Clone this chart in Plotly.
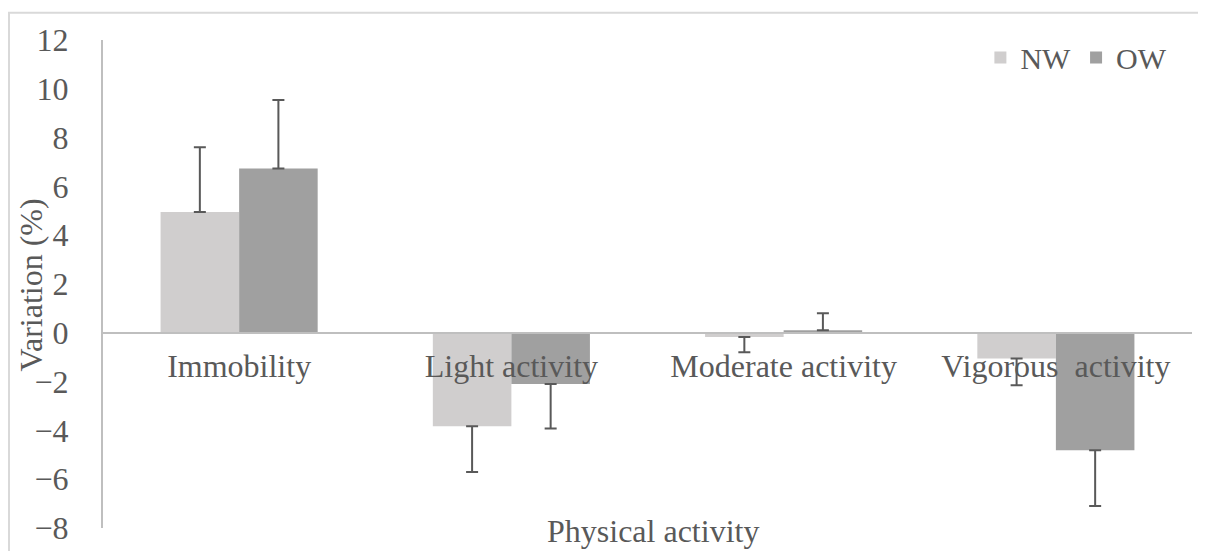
import plotly.graph_objects as go

categories = ["Immobility", "Light activity", "Moderate activity", "Vigorous  activity"]
nw_values = [4.95, -3.83, -0.17, -1.05]
nw_err = [2.65, 1.87, 0.63, 1.10]
ow_values = [6.73, -2.10, 0.10, -4.81]
ow_err = [2.81, 1.82, 0.70, 2.29]
y_ticks = [-8, -6, -4, -2, 0, 2, 4, 6, 8, 10, 12]

FONT = "Liberation Serif"
FS = 32
TXT = "#595959"


def one_sided(vals, errs):
    up = [e if v >= 0 else 0 for v, e in zip(vals, errs)]
    down = [e if v < 0 else 0 for v, e in zip(vals, errs)]
    return up, down


fig = go.Figure()
for name, vals, errs, color in [("NW", nw_values, nw_err, "#d0cece"),
                                ("OW", ow_values, ow_err, "#a0a0a0")]:
    up, down = one_sided(vals, errs)
    fig.add_trace(go.Bar(
        x=categories, y=vals, name=name, marker_color=color,
        marker_line_width=0,
        error_y=dict(type="data", symmetric=False, array=up, arrayminus=down,
                     color=TXT, thickness=2, width=6),
    ))

# the page body has an 8px margin, so the figure is drawn 8px smaller and offset
fig.update_layout(
    width=1198, height=543,
    margin=dict(l=95, r=14, t=32, b=23, autoexpand=False),
    paper_bgcolor="white", plot_bgcolor="white",
    font=dict(family=FONT, size=FS, color=TXT),
    barmode="group", bargap=0.423, bargroupgap=0,
    showlegend=True,
    legend=dict(orientation="h", x=0.982, xanchor="right", y=0.964, yanchor="middle",
                font=dict(family=FONT, size=30, color=TXT), bgcolor="rgba(0,0,0,0)",
                itemwidth=30, tracegroupgap=0),
    xaxis=dict(anchor="free", position=0.4, showline=True, linecolor="#bfbfbf",
               linewidth=2, showgrid=False, ticks="", layer="above traces",
               ticklabelstandoff=5,
               tickfont=dict(family=FONT, size=FS, color=TXT), zeroline=False),
    yaxis=dict(range=[-8, 12], tickvals=y_ticks, ticktext=[str(t).replace("-", "\u2212") for t in y_ticks],
               showline=True, linecolor="#bfbfbf", linewidth=2, showgrid=False,
               zeroline=False, ticks="", ticklabelstandoff=26,
               tickfont=dict(family=FONT, size=FS, color=TXT)),
)

fig.add_annotation(text="Physical activity", xref="paper", yref="paper",
                   x=0.505, y=-0.007, xanchor="center", yanchor="middle",
                   showarrow=False, font=dict(family=FONT, size=FS, color=TXT))
fig.add_annotation(text="Variation (%)", xref="paper", yref="paper",
                   x=-0.066, y=0.497, xanchor="center", yanchor="middle",
                   textangle=-90, showarrow=False, font=dict(family=FONT, size=FS, color=TXT))
fig.add_shape(type="rect", xref="paper", yref="paper",
              x0=-0.0863, x1=1.05, y0=-0.2, y1=1.056,
              line=dict(color="#d9d9d9", width=2), fillcolor="rgba(0,0,0,0)", layer="below")

fig.write_html("out.html")
